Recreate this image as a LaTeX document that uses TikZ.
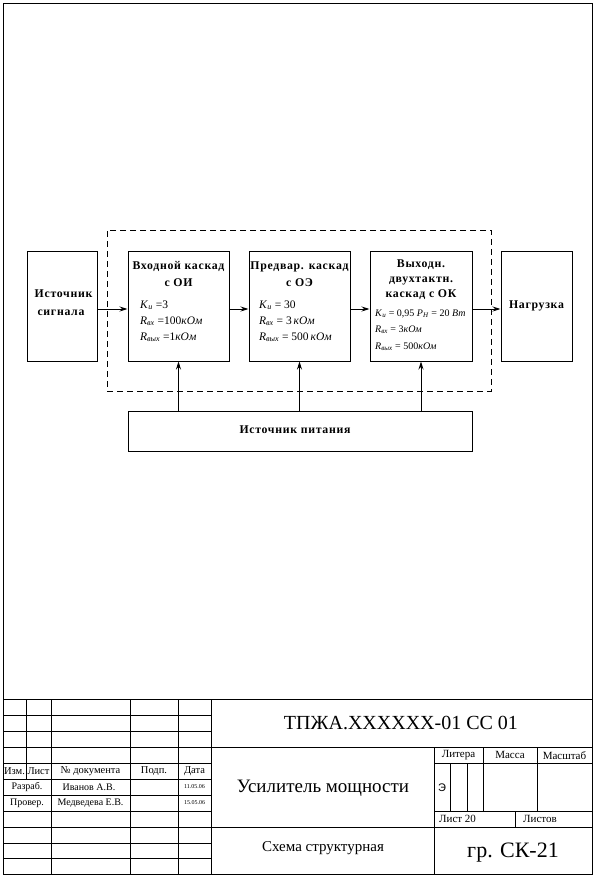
\documentclass[tikz,border=0pt]{standalone}
\usepackage{fontspec}
\setmainfont{Liberation Serif}
\newfontfamily\sansf{Liberation Sans}
\newfontfamily\bsp[LetterSpace=6]{Liberation Serif}
\usetikzlibrary{arrows.meta}
\newcommand\fv[2]{\textit{#1}\textsubscript{\textit{#2}}}
\begin{document}
\begin{tikzpicture}[x=1pt,y=-1pt,
  box/.style={draw,line width=1pt,inner sep=0pt},
  ttl/.style={font=\bsp\bfseries\fontsize{11.8}{13}\selectfont,anchor=base,inner sep=0pt},
  fml/.style={font=\fontsize{11.5}{13}\selectfont,anchor=base west,inner sep=0pt},
  fmls/.style={font=\fontsize{10}{12}\selectfont,anchor=base west,inner sep=0pt},
  arr/.style={-{Stealth[length=8pt,width=5pt]},line width=0.9pt},
  tb/.style={line width=1pt},
  tcell/.style={inner sep=0pt,font=\fontsize{10.5}{12}\selectfont},
  tcellsm/.style={inner sep=0pt,font=\fontsize{10}{12}\selectfont},
  tinytxt/.style={inner sep=0pt,font=\fontsize{6}{7}\selectfont}]
\useasboundingbox (0,0) rectangle (596,879);
% frame
\draw[line width=1.4pt] (3.5,3.5) rectangle (592.5,874.5);

% blocks
\node[box,minimum width=70pt,minimum height=110pt] (src) at (62,306) {};
\node[box,minimum width=101pt,minimum height=110pt] (b1) at (178.5,306) {};
\node[box,minimum width=101pt,minimum height=110pt] (b2) at (299.5,306) {};
\node[box,minimum width=102pt,minimum height=110pt] (b3) at (421,306) {};
\node[box,minimum width=71pt,minimum height=110pt] (load) at (536.5,306) {};
\node[box,minimum width=344pt,minimum height=40pt] (pwr) at (300,431) {};
\node[draw,dash pattern=on 6pt off 4pt,line width=0.9pt,inner sep=0pt,minimum width=384pt,minimum height=161pt] (grp) at (299,310.5) {};

% texts
\node[ttl] (srcA) at (63.5,297) {Источник};
\node[ttl] (srcB) at (61,315) {сигнала};
\node[ttl] (b1A) at (178.5,269) {Входной каскад};
\node[ttl] (b1B) at (178.5,286) {с ОИ};
\node[ttl] (b2A) at (299.5,269) {Предвар. каскад};
\node[ttl] (b2B) at (299.5,286) {с ОЭ};
\node[ttl] (b3A) at (421,267) {Выходн.};
\node[ttl] (b3B) at (421,282) {двухтактн.};
\node[ttl] (b3C) at (421,297) {каскад с ОК};
\node[ttl] (loadA) at (536.5,308) {Нагрузка};
\node[ttl] (pwrA) at (295,433) {Источник питания};

\node[fml] (f11) at (140,308) {\fv{K}{и} =3};
\node[fml] (f12) at (140,324) {\fv{R}{вх} =100\textit{кОм}};
\node[fml] (f13) at (140,340) {\fv{R}{вых} =1\textit{кОм}};
\node[fml] (f21) at (259,308) {\fv{K}{и} = 30};
\node[fml] (f22) at (259,324) {\fv{R}{вх} = 3\,\textit{кОм}};
\node[fml] (f23) at (259,340) {\fv{R}{вых} = 500\,\textit{кОм}};
\node[fmls] (f31) at (375,316) {\fv{K}{и} = 0,95 \fv{P}{Н} = 20 \textit{Вт}};
\node[fmls] (f32) at (375,332) {\fv{R}{вх} = 3\textit{кОм}};
\node[fmls] (f33) at (375,349) {\fv{R}{вых} = 500\textit{кОм}};

% arrows
\draw[arr] ([yshift=-3pt]src.east) -- ([yshift=-3pt]b1.west);
\draw[arr] ([yshift=-3pt]b1.east) -- ([yshift=-3pt]b2.west);
\draw[arr] ([yshift=-3pt]b2.east) -- ([yshift=-3pt]b3.west);
\draw[arr] ([yshift=-3pt]b3.east) -- ([yshift=-3pt]load.west);
\draw[arr] (pwr.north -| b1.south) -- (b1.south);
\draw[arr] (pwr.north -| b2.south) -- (b2.south);
\draw[arr] (pwr.north -| b3.south) -- (b3.south);

% title block
\foreach \yy in {699,747,827} \draw[tb] (3.5,\yy) -- (592.5,\yy);
\foreach \yy in {715,731,763,779,795,811,843,858.5} \draw[tb] (3.5,\yy) -- (211,\yy);
\draw[tb] (26,699) -- (26,779);
\foreach \xx in {51,130,178,211} \draw[tb] (\xx,699) -- (\xx,874.5);
\draw[tb] (434,747) -- (434,874.5);
\draw[tb] (434,763) -- (592.5,763);
\draw[tb] (434,811) -- (592.5,811);
\draw[tb] (450,763) -- (450,811);
\draw[tb] (467,763) -- (467,811);
\draw[tb] (483,747) -- (483,811);
\draw[tb] (537,747) -- (537,811);
\draw[tb] (515,811) -- (515,827);

\node[inner sep=0pt,font=\fontsize{20}{24}\selectfont] (doc) at (401,723) {ТПЖА.XXXXXX-01 СС 01};
\node[inner sep=0pt,font=\fontsize{19}{23}\selectfont] (name) at (323,788) {Усилитель мощности};
\node[inner sep=0pt,font=\fontsize{15}{18}\selectfont] (kind) at (323,848) {Схема структурная};
\node[inner sep=0pt,font=\fontsize{22}{26}\selectfont] (grpn) at (513,853) {гр. СК-21};
\node[tcell,font=\fontsize{11}{13}\selectfont] (lit) at (458.5,755.5) {Литера};
\node[tcell,font=\fontsize{11}{13}\selectfont] (mas) at (510,754.5) {Масса};
\node[tcell,font=\fontsize{11}{13}\selectfont] (msh) at (564.5,755.5) {Масштаб};
\node[inner sep=0pt,font=\sansf\fontsize{11}{13}\selectfont] (e) at (442,788) {Э};
\node[tcell,anchor=west,font=\fontsize{11}{13}\selectfont] (list) at (439,819) {Лист 20};
\node[tcell,anchor=west,font=\fontsize{11}{13}\selectfont] (lists) at (523,819) {Листов};

\node[tcell] (izm) at (14.5,771) {Изм.};
\node[tcell] (lst) at (38.5,771) {Лист};
\node[tcell] (ndoc) at (90.5,771) {№ документа};
\node[tcell] (podp) at (154,771) {Подп.};
\node[tcell] (data) at (194.5,771) {Дата};
\node[tcellsm] (razr) at (27,787) {Разраб.};
\node[tcellsm] (ivan) at (89,787) {Иванов А.В.};
\node[tinytxt] (d1) at (194.5,787) {11.05.06};
\node[tcellsm] (prov) at (27,803) {Провер.};
\node[tcellsm] (medv) at (90.5,803) {Медведева Е.В.};
\node[tinytxt] (d2) at (194.5,803) {15.05.06};
\end{tikzpicture}
\end{document}
